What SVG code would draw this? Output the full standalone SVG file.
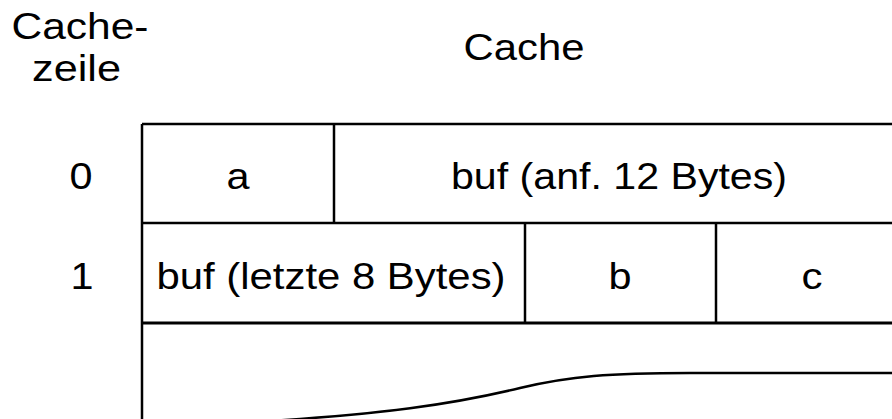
<svg xmlns="http://www.w3.org/2000/svg" width="892" height="419" viewBox="0 0 892 419">
  <style>
    text { font-family: "Liberation Sans", Arial, sans-serif; font-size: 37px; fill: #000; text-anchor: middle; }
    .grid { stroke: #000; stroke-width: 2.5; fill: none; }
    .brk { stroke: #000; stroke-width: 2.5; fill: none; }
  </style>
  <rect width="892" height="419" fill="#fff"/>

  <!-- headings (wide letterforms: widths fixed with textLength) -->
  <g id="head-line">
    <text x="80" y="38.5" textLength="137" lengthAdjust="spacingAndGlyphs">Cache-</text>
    <text x="76.5" y="80.5" textLength="89" lengthAdjust="spacingAndGlyphs">zeile</text>
  </g>
  <g id="head-cache">
    <text x="524" y="60" textLength="121" lengthAdjust="spacingAndGlyphs">Cache</text>
  </g>

  <!-- row numbers -->
  <g id="row0-label"><text x="81" y="189" textLength="23" lengthAdjust="spacingAndGlyphs">0</text></g>
  <g id="row1-label"><text x="82" y="289" textLength="23" lengthAdjust="spacingAndGlyphs">1</text></g>

  <!-- table grid -->
  <g id="grid" class="grid">
    <path d="M142 124 H900"/>
    <path d="M142 124 V425"/>
    <path d="M142 223 H900"/>
    <path d="M142 323 H900" stroke-width="3"/>
    <path d="M334 124 V223"/>
    <path d="M525 223 V323"/>
    <path d="M716 223 V323"/>
  </g>

  <!-- row 0 cells -->
  <g id="cell-a"><text x="238" y="189" textLength="23" lengthAdjust="spacingAndGlyphs">a</text></g>
  <g id="cell-buf-first"><text x="619" y="189" textLength="336" lengthAdjust="spacingAndGlyphs">buf (anf. 12 Bytes)</text></g>

  <!-- row 1 cells -->
  <g id="cell-buf-last"><text x="331" y="289" textLength="349" lengthAdjust="spacingAndGlyphs">buf (letzte 8 Bytes)</text></g>
  <g id="cell-b"><text x="620" y="289" textLength="23" lengthAdjust="spacingAndGlyphs">b</text></g>
  <g id="cell-c"><text x="812" y="289" textLength="21" lengthAdjust="spacingAndGlyphs">c</text></g>

  <!-- break line marking the truncated rest of the cache -->
  <g id="connectors">
    <path class="brk" d="M270 421 C380 414 450 405 520 388 C570 376 610 373 690 373 H900"/>
  </g>
</svg>
